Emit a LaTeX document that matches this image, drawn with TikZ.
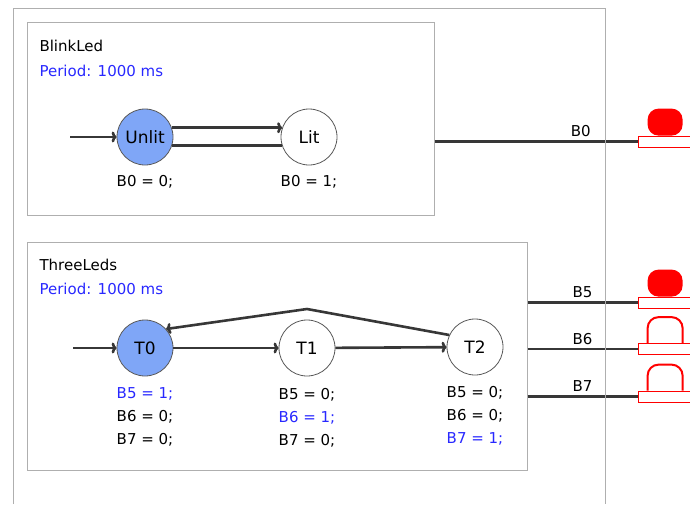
\documentclass[tikz,border=0pt]{standalone}
\usepackage{fontspec}
\setmainfont{DejaVu Sans}
\usetikzlibrary{positioning,arrows.meta}
\definecolor{stateblue}{RGB}{127,166,247}
\definecolor{textblue}{RGB}{40,40,255}
\definecolor{framegray}{RGB}{175,175,175}
\definecolor{wiregray}{RGB}{55,55,55}
\definecolor{ledred}{RGB}{255,0,0}

\begin{document}
\begin{tikzpicture}[x=1pt, y=-1pt, font=\fontsize{15}{17}\selectfont,
  module/.style={draw=framegray, line width=1pt, inner sep=0pt},
  state/.style={circle, draw=black!65, line width=0.8pt, fill=white, minimum size=56pt, inner sep=0pt, font=\fontsize{17}{19}\selectfont},
  trans/.style={draw=wiregray, line width=2.6pt, -{To[length=5pt,width=11pt]}},
  wire/.style={draw=wiregray, line width=2.4pt},
  ledbase/.style={draw=ledred, line width=0.8pt, fill=white, minimum width=60pt, minimum height=11pt, inner sep=0pt},
  ledon/.style={fill=ledred, rounded corners=11pt},
  ledoff/.style={draw=ledred, line width=2pt, rounded corners=11pt},
  actions/.style={align=center, font=\fontsize{15}{23}\selectfont}]
  \useasboundingbox (0,0) rectangle (690,504);

  % Outer frame
  \draw[framegray, line width=1pt] (13,504) -- (13,8) -- (605,8) -- (605,504);

  % BlinkLed module
  \node[module, minimum width=407pt, minimum height=193pt] (blink) at (230.5,118.5) {};
  \node[anchor=west] (blinkname) at (36,46) {BlinkLed};
  \node[anchor=west, textblue] (blinkperiod) at (36,71) {Period: 1000 ms};
  \node[state, fill=stateblue] (unlit) at (145,137) {Unlit};
  \node[state] (lit) at (309,137) {Lit};
  \node[below=6pt of unlit] (unlitact) {B0 = 0;};
  \node[below=6pt of lit] (litact) {B0 = 1;};
  \coordinate (blinkstart) at (70,137);
  \draw[trans] (blinkstart) -- (unlit.west);
  \draw[trans] (unlit.19) -- (lit.161);
  \draw[wire] (unlit.-17) -- (lit.-163);

  % ThreeLeds module
  \node[module, minimum width=500pt, minimum height=228pt] (three) at (277,356) {};
  \node[anchor=west] (threename) at (36,265) {ThreeLeds};
  \node[anchor=west, textblue] (threeperiod) at (36,289) {Period: 1000 ms};
  \node[state, fill=stateblue] (t0) at (145,348) {T0};
  \node[state] (t1) at (307,348) {T1};
  \node[state] (t2) at (475,347) {T2};
  \node[actions, below=8pt of t0] (t0act) {\textcolor{textblue}{B5 = 1;}\\B6 = 0;\\B7 = 0;};
  \node[actions, below=8pt of t1] (t1act) {B5 = 0;\\\textcolor{textblue}{B6 = 1;}\\B7 = 0;};
  \node[actions, below=7pt of t2] (t2act) {B5 = 0;\\B6 = 0;\\\textcolor{textblue}{B7 = 1;}};
  \coordinate (threestart) at (73,348);
  \coordinate (peak) at (307,309);
  \draw[trans] (threestart) -- (t0.west);
  \draw[trans] (t0) -- (t1);
  \draw[trans] (t1) -- (t2);
  \draw[trans] (t2.155) -- (peak) -- (t0.42);

  % LEDs
  \node[ledbase] (led0) at (668,141.5) {};
  \node[ledbase] (led5) at (668,302.5) {};
  \node[ledbase] (led6) at (668,349) {};
  \node[ledbase] (led7) at (668,396.5) {};
  \fill[ledon] ([xshift=10pt]led0.north west) -- ++(0,-27) -- ++(35,0) -- ++(0,27) -- cycle;
  \fill[ledon] ([xshift=10pt]led5.north west) -- ++(0,-27) -- ++(35,0) -- ++(0,27) -- cycle;
  \draw[ledoff] ([xshift=10pt]led6.north west) -- ++(0,-26) -- ++(35,0) -- ++(0,26);
  \draw[ledoff] ([xshift=10pt]led7.north west) -- ++(0,-26) -- ++(35,0) -- ++(0,26);
  \node[ledbase] at (led0) {};
  \node[ledbase] at (led5) {};
  \node[ledbase] at (led6) {};
  \node[ledbase] at (led7) {};

  % Wires
  \coordinate (b0out) at (blink.east |- led0);
  \coordinate (b5out) at (three.east |- led5);
  \coordinate (b6out) at (three.east |- led6);
  \coordinate (b7out) at (three.east |- led7);
  \draw[wire] (b0out) -- node[above, pos=0.72] (b0lbl) {B0} (led0.west);
  \draw[wire] (b5out) -- node[above, pos=0.5] (b5lbl) {B5} (led5.west);
  \draw[wire] (b6out) -- node[above, pos=0.5] (b6lbl) {B6} (led6.west);
  \draw[wire] (b7out) -- node[above, pos=0.5] (b7lbl) {B7} (led7.west);
  \draw[framegray, line width=1pt] (605,8) -- (605,504);
\end{tikzpicture}
\end{document}
